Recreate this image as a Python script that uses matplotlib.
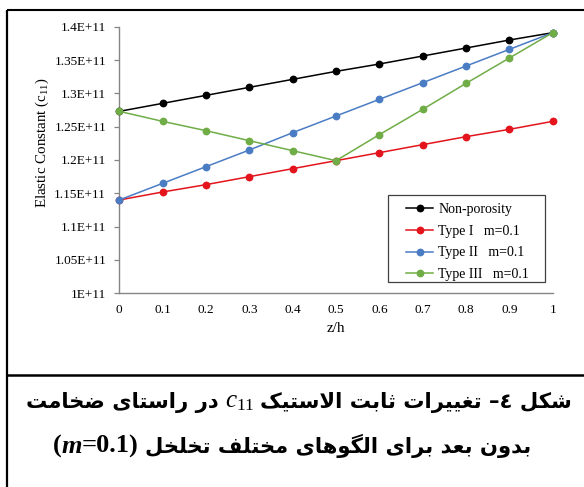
import numpy as np
import matplotlib
matplotlib.use('Agg')
import matplotlib.pyplot as plt
from matplotlib.lines import Line2D
from matplotlib.patches import Rectangle
from matplotlib.offsetbox import TextArea, HPacker, AnchoredOffsetbox

# data (values in units of 1E+11)
z = [0, 0.1, 0.2, 0.3, 0.4, 0.5, 0.6, 0.7, 0.8, 0.9, 1.0]
non_porosity = [1.273, 1.285, 1.297, 1.309, 1.321, 1.333, 1.344, 1.356, 1.368, 1.380, 1.391]
type_1 = [1.140, 1.152, 1.163, 1.175, 1.187, 1.199, 1.211, 1.223, 1.235, 1.246, 1.258]
type_2 = [1.140, 1.165, 1.190, 1.215, 1.241, 1.266, 1.291, 1.316, 1.341, 1.366, 1.391]
type_3 = [1.273, 1.258, 1.244, 1.229, 1.214, 1.199, 1.238, 1.276, 1.315, 1.353, 1.391]

series_labels = ['Non-porosity', 'Type I   m=0.1', 'Type II   m=0.1', 'Type III   m=0.1']
series_colors = ['#000000', '#e3141c', '#4a7cc4', '#70ad47']

y_ticks = [1.0, 1.05, 1.1, 1.15, 1.2, 1.25, 1.3, 1.35, 1.4]
y_ticklabels = ['1E+11', '1.05E+11', '1.1E+11', '1.15E+11', '1.2E+11',
                '1.25E+11', '1.3E+11', '1.35E+11', '1.4E+11']
x_ticklabels = ['0', '0.1', '0.2', '0.3', '0.4', '0.5', '0.6', '0.7', '0.8', '0.9', '1']

caption1_right = ['شکل', '٤–', 'تغییرات', 'ثابت', 'الاستیک']
caption1_left = ['در', 'راستای', 'ضخامت']
caption2 = ['بدون', 'بعد', 'برای', 'الگوهای', 'مختلف', 'تخلخل']

# simple arabic/persian shaping (isolated, final, initial, medial)
FORMS = {
    'ا': ('\uFE8D', '\uFE8E', None, None),
    'ب': ('\uFE8F', '\uFE90', '\uFE91', '\uFE92'),
    'ت': ('\uFE95', '\uFE96', '\uFE97', '\uFE98'),
    'ث': ('\uFE99', '\uFE9A', '\uFE9B', '\uFE9C'),
    'خ': ('\uFEA5', '\uFEA6', '\uFEA7', '\uFEA8'),
    'د': ('\uFEA9', '\uFEAA', None, None),
    'ر': ('\uFEAD', '\uFEAE', None, None),
    'س': ('\uFEB1', '\uFEB2', '\uFEB3', '\uFEB4'),
    'ش': ('\uFEB5', '\uFEB6', '\uFEB7', '\uFEB8'),
    'ض': ('\uFEBD', '\uFEBE', '\uFEBF', '\uFEC0'),
    'ع': ('\uFEC9', '\uFECA', '\uFECB', '\uFECC'),
    'غ': ('\uFECD', '\uFECE', '\uFECF', '\uFED0'),
    'ف': ('\uFED1', '\uFED2', '\uFED3', '\uFED4'),
    'ل': ('\uFEDD', '\uFEDE', '\uFEDF', '\uFEE0'),
    'م': ('\uFEE1', '\uFEE2', '\uFEE3', '\uFEE4'),
    'ن': ('\uFEE5', '\uFEE6', '\uFEE7', '\uFEE8'),
    'ه': ('\uFEE9', '\uFEEA', '\uFEEB', '\uFEEC'),
    'و': ('\uFEED', '\uFEEE', None, None),
    'ک': ('\uFB8E', '\uFB8F', '\uFB90', '\uFB91'),
    'گ': ('\uFB92', '\uFB93', '\uFB94', '\uFB95'),
    'ی': ('\uFBFC', '\uFBFD', '\uFBFE', '\uFBFF'),
}


def joins_next(c):
    return c in FORMS and FORMS[c][2] is not None


def shape(word):
    out = []
    i = 0
    while i < len(word):
        c = word[i]
        prev = word[i - 1] if i > 0 else None
        nxt = word[i + 1] if i + 1 < len(word) else None
        p = prev is not None and joins_next(prev)
        if c == 'ل' and nxt == 'ا':
            out.append('\uFEFC' if p else '\uFEFB')
            i += 2
            continue
        if c not in FORMS:
            out.append(c)
            i += 1
            continue
        n = nxt is not None and nxt in FORMS and joins_next(c)
        iso, fin, ini, med = FORMS[c]
        if p and n:
            out.append(med)
        elif p:
            out.append(fin)
        elif n:
            out.append(ini)
        else:
            out.append(iso)
        i += 1
    return ''.join(out)


def visual(words):
    return ' '.join(shape(w)[::-1] for w in reversed(words))


plt.rcParams['font.family'] = ['Liberation Serif', 'DejaVu Sans']
plt.rcParams['mathtext.fontset'] = 'custom'
plt.rcParams['mathtext.rm'] = 'Liberation Serif'
plt.rcParams['mathtext.it'] = 'Liberation Serif:italic'
plt.rcParams['mathtext.bf'] = 'Liberation Serif:bold'

W, H = 584, 487
fig = plt.figure(figsize=(W / 100, H / 100), dpi=100)
ax = fig.add_axes([119.3 / W, 1 - 293.3 / H, 433.4 / W, 266.6 / H])

for vals, lab, col in zip([non_porosity, type_1, type_2, type_3], series_labels, series_colors):
    ax.plot(z, np.array(vals) * 1e11, color=col, lw=1.1, marker='o', ms=4.6,
            label=lab, clip_on=False, zorder=3)

ax.set_xlim(0, 1)
ax.set_ylim(1.0e11, 1.4e11)
ax.set_xticks(z)
ax.set_xticklabels(x_ticklabels)
ax.set_yticks(np.array(y_ticks) * 1e11)
ax.set_yticklabels(y_ticklabels)
for s in ['top', 'right']:
    ax.spines[s].set_visible(False)
for s in ['left', 'bottom']:
    ax.spines[s].set_color('#858585')
    ax.spines[s].set_linewidth(1.0)
ax.tick_params(axis='y', length=3.5, width=0.9, color='#858585', pad=6, labelsize=9.5)
ax.tick_params(axis='x', length=0, pad=8, labelsize=9.5)

ax.set_xlabel('z/h', fontsize=11)
ax.xaxis.set_label_coords(0.5, -0.108)
ax.set_ylabel('Elastic Constant (c$_{11}$)', fontsize=10.8)
ax.yaxis.set_label_coords(-0.158, 0.565)

# legend box drawn separately so paddings match
ax.add_patch(Rectangle((0.620, 0.0424), 0.3623, 0.3263, transform=ax.transAxes,
                       facecolor='white', edgecolor='#404040', lw=0.9, zorder=4))
leg = ax.legend(loc='upper left', bbox_to_anchor=(0.6615, 0.338), fontsize=10,
                frameon=False, handlelength=1.95, handletextpad=0.36,
                labelspacing=0.62, borderpad=0, borderaxespad=0)
leg.set_zorder(5)

# outer frame lines
def fig_line(x0, y0, x1, y1, lw):
    fig.add_artist(Line2D([x0 / W, x1 / W], [1 - y0 / H, 1 - y1 / H], color='black',
                          lw=lw, transform=fig.transFigure, solid_capstyle='butt'))

fig_line(7, 10, W, 10, 1.5)
fig_line(7, 10, 7, H, 1.6)
fig_line(7, 375, W, 375, 1.8)

# caption
cap_props = dict(family='DejaVu Sans', fontweight='bold', fontsize=15.2, color='black')
line1 = HPacker(children=[
    TextArea(visual(caption1_left), textprops=cap_props),
    TextArea('$c_{11}$', textprops=dict(fontsize=18, color='black')),
    TextArea(visual(caption1_right), textprops=cap_props),
], sep=4, align='baseline')
ab1 = AnchoredOffsetbox(loc='center', child=line1, frameon=False, pad=0, borderpad=0,
                        bbox_to_anchor=(299 / W, 1 - 402 / H), bbox_transform=fig.transFigure)
fig.add_artist(ab1)

serif_b = dict(family='Liberation Serif', fontweight='bold', fontsize=19, color='black')
serif_bi = dict(family='Liberation Serif', fontweight='bold', fontstyle='italic', fontsize=19, color='black')
mpart = HPacker(children=[
    TextArea('(', textprops=serif_b),
    TextArea('m', textprops=serif_bi),
    TextArea('=0.1)', textprops=serif_b),
], sep=0, align='baseline')
line2 = HPacker(children=[mpart, TextArea(visual(caption2), textprops=cap_props)],
                sep=5, align='baseline')
ab2 = AnchoredOffsetbox(loc='center', child=line2, frameon=False, pad=0, borderpad=0,
                        bbox_to_anchor=(292 / W, 1 - 446 / H), bbox_transform=fig.transFigure)
fig.add_artist(ab2)

fig.savefig('out.png', dpi=100)
